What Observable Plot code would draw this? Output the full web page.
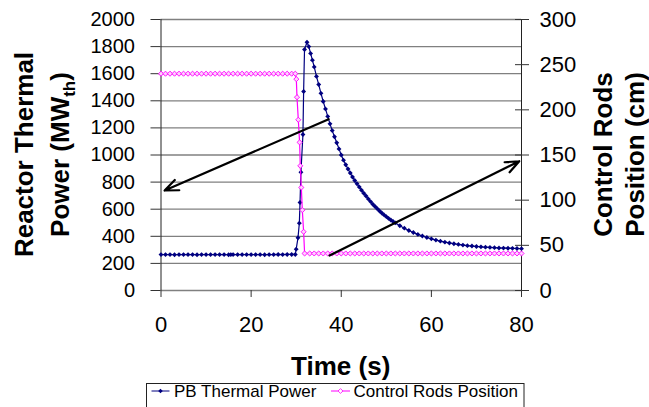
<!DOCTYPE html>
<html><head><meta charset="utf-8">
<script src="https://cdn.jsdelivr.net/npm/d3@7"></script>
<script src="https://cdn.jsdelivr.net/npm/@observablehq/plot@0.6"></script>
<style>body{margin:0;background:#fff;} #chart svg{display:block}</style>
</head><body><div id="chart"></div>
<script>
// ---- data ----
const seriesNames = ["PB Thermal Power", "Control Rods Position"];
const xTitle = "Time (s)";
const leftTitle = ["Reactor Thermal", "Power (MW", "th", ")"];
const rightTitle = ["Control Rods", "Position (cm)"];
const timeTicks = [0, 20, 40, 60, 80];
const powerTicks = [0, 200, 400, 600, 800, 1000, 1200, 1400, 1600, 1800, 2000];
const rodTicks = [0, 50, 100, 150, 200, 250, 300];

// [time s, power MWth]
const powerSeries = [
  [0,265],[1,265],[2,265],[3,264],[4,265],[5,265],[6,265],[7,265],[8,264],[9,265],
  [10,265],[11,265],[12,265],[13,265],[14,265],[15,264],[15.5,265],[16,265],[17,265],[18,265],[19,265],
  [20,265],[21,265],[22,265],[23,264],[24,265],[25,265],[26,266],[27,265],[28,266],[29,266],
  [29.8,266],[30,305],[30.4,389],[30.7,497],[30.85,649],[31.05,873],[31.5,1151],[31.65,1469],[31.85,1779],
  [32.4,1832],[32.8,1800],[33.2,1750],[33.6,1700],[34,1650],[34.5,1580],[35,1520],[35.5,1455],
  [36,1395],[36.5,1340],[37,1285],[37.5,1230],[38,1180],[38.5,1135],[39,1090],[39.5,1045],
  [40,1000],[40.5,962],[41,928],[41.5,897],[42,867],[42.5,838],[43,812],[43.5,788],[44,764],[44.5,740],
  [45,718],[45.5,697],[46,676],[46.5,656],[47,637],[47.5,620],[48,603],[48.5,587],[49,572],[49.5,558],
  [50,545],[50.5,532],[51,520],[51.5,509],[52,499],[53,478],[54,460],[55,443],[56,428],[57,414],
  [58,402],[59,391],[60,381],[61,372],[62,364],[63,357],[64,351],[65,345],[66,340],[67,335],
  [68,331],[69,328],[70,325],[71,322],[72,320],[73,318],[74,316],[75,314],[76,313],[77,312],
  [78,311],[79,310],[80,309]
];
// [time s, rod position cm]
const rodSeries = [
  [0,240],[1,240],[2,240],[3,240],[4,240],[5,240],[6,240],[7,240],[8,240],[9,240],
  [10,240],[11,240],[12,240],[13,240],[14,240],[15,240],[16,240],[17,240],[18,240],[19,240],
  [20,240],[21,240],[22,240],[23,240],[24,240],[25,240],[26,240],[27,240],[28,240],[29,240],
  [29.8,240],[30.03,234],[30.18,214],[30.47,189],[30.76,164],[30.91,138],[31.14,114],[31.36,89],
  [31.65,65],[31.87,41],[33,41],[34,41],[35,41],[36,41],[37,41],[38,41],[39,41],[40,41],
  [41,41],[42,41],[43,41],[44,41],[45,41],[46,41],[47,41],[48,41],[49,41],[50,41],
  [51,41],[52,41],[53,41],[54,41],[55,41],[56,41],[57,41],[58,41],[59,41],[60,41],
  [61,41],[62,41],[63,41],[64,41],[65,41],[66,41],[67,41],[68,41],[69,41],[70,41],
  [71,41],[72,41],[73,41],[74,41],[75,41],[76,41],[77,41],[78,41],[79,41],[80,41]
];
// annotation arrows, in (time, power) units: from -> to
const arrowFromT = [37.2, 37.4];
const arrowFromP = [1264, 258];
const arrowToT = [0.8, 79.5];
const arrowToP = [738, 954];

// ---- build ----
const FONT = "'Liberation Sans', Arial, Helvetica, sans-serif";
const k = d3.max(powerTicks) / d3.max(rodTicks);
const power = powerSeries.map(([t, v]) => ({t, v}));
const rods = rodSeries.map(([t, v]) => ({t, v: v * k}));
const arrows = arrowFromT.map((t, i) => ({x1: t, y1: arrowFromP[i], x2: arrowToT[i], y2: arrowToP[i]}));
const POWER_C = "#000080", RODS_C = "#ff00ff";

const svg = Plot.plot({
  width: 649, height: 383,
  marginLeft: 160.5, marginRight: 128, marginTop: 19, marginBottom: 93,
  style: {fontFamily: FONT, color: "#000", background: "#fff", overflow: "visible"},
  x: {domain: d3.extent(timeTicks)},
  y: {domain: d3.extent(powerTicks)},
  marks: [
    Plot.gridY(powerTicks, {stroke: "#808080", strokeOpacity: 1, strokeWidth: 1.3}),
    Plot.ruleX(d3.extent(timeTicks), {stroke: "#222", strokeWidth: 1}),
    Plot.axisY(powerTicks, {anchor: "left", tickSize: 10, tickPadding: 16, fontSize: 20, label: null, stroke: "#333", tickFormat: d => String(d)}),
    Plot.axisY(rodTicks.map(r => r * k), {anchor: "right", tickSize: 14, insetRight: 7, tickPadding: 11, fontSize: 22, label: null, stroke: "#333", tickFormat: d => String(Math.round(d / k))}),
    Plot.axisX(timeTicks, {anchor: "bottom", tickSize: 7, tickPadding: 19, fontSize: 22, label: null, stroke: "#333", tickFormat: d => String(d)}),
    Plot.line(power, {x: "t", y: "v", stroke: POWER_C, strokeWidth: 1.2}),
    Plot.dot(power, {x: "t", y: "v", symbol: "diamond2", r: 2.2, fill: POWER_C}),
    Plot.line(rods, {x: "t", y: "v", stroke: RODS_C, strokeWidth: 1.2}),
    Plot.dot(rods, {x: "t", y: "v", symbol: "diamond2", r: 2.3, fill: "#ffd0ff", stroke: RODS_C, strokeWidth: 0.9}),
    Plot.arrow(arrows, {x1: "x1", y1: "y1", x2: "x2", y2: "y2", stroke: "#000", strokeWidth: 2.2, headLength: 10, headAngle: 45})
  ]
});
document.getElementById("chart").appendChild(svg);

// axis titles
const s = d3.select(svg);
const tg = s.append("g").attr("font-family", FONT).attr("font-weight", "bold")
  .attr("font-size", 26).attr("fill", "#000").attr("text-anchor", "middle");
const midY = 154.5;
tg.append("text").attr("transform", `translate(33,${midY}) rotate(-90)`).text(leftTitle[0]);
const l2 = tg.append("text").attr("transform", `translate(68.5,${midY}) rotate(-90)`);
l2.append("tspan").text(leftTitle[1]);
l2.append("tspan").attr("font-size", 17).attr("dy", 6).text(leftTitle[2]);
l2.append("tspan").attr("dy", -6).text(leftTitle[3]);
tg.append("text").attr("transform", `translate(612,${midY}) rotate(-90)`).text(rightTitle[0]);
tg.append("text").attr("transform", `translate(643.5,${midY}) rotate(-90)`).text(rightTitle[1]);
tg.append("text").attr("x", 340.7).attr("y", 375).text(xTitle);

// legend below the chart
const lg = d3.select("#chart").append("svg").attr("width", 649).attr("height", 24)
  .style("display", "block").attr("font-family", FONT);
lg.append("rect").attr("x", 146.5).attr("y", 0.5).attr("width", 377.5).attr("height", 40)
  .attr("fill", "#fff").attr("stroke", "#222");
const dia = (cx, cy, h) => `M${cx},${cy - h}L${cx + h},${cy}L${cx},${cy + h}L${cx - h},${cy}Z`;
lg.append("line").attr("x1", 151.5).attr("x2", 169.5).attr("y1", 8).attr("y2", 8).attr("stroke", POWER_C);
lg.append("path").attr("d", dia(160.5, 8, 2.3)).attr("fill", POWER_C);
lg.append("text").attr("x", 174).attr("y", 14).attr("font-size", 17).text(seriesNames[0]);
lg.append("line").attr("x1", 331).attr("x2", 350).attr("y1", 8).attr("y2", 8).attr("stroke", RODS_C);
lg.append("path").attr("d", dia(340.5, 8, 2.4)).attr("fill", "#fff").attr("stroke", RODS_C).attr("stroke-width", 0.8);
lg.append("text").attr("x", 353.5).attr("y", 14).attr("font-size", 17).text(seriesNames[1]);
</script>
</body></html>
